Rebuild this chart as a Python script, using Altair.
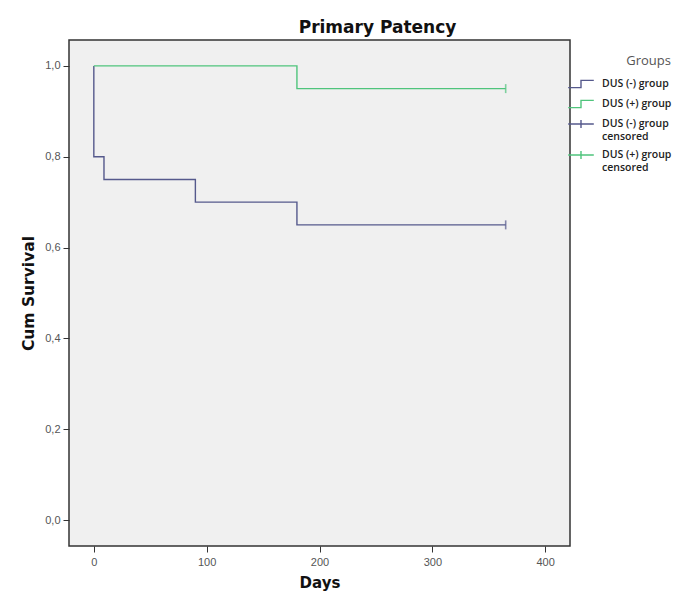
import altair as alt
import pandas as pd

# Kaplan-Meier steps
neg_days = [0, 0, 9, 90, 180, 365]
neg_surv = [1.0, 0.80, 0.75, 0.70, 0.65, 0.65]
pos_days = [0, 180, 365]
pos_surv = [1.0, 0.95, 0.95]

cens_group = ["DUS (-) group censored", "DUS (+) group censored"]
cens_days = [365, 365]
cens_surv = [0.65, 0.95]

groups = ["DUS (-) group", "DUS (+) group", "DUS (-) group censored", "DUS (+) group censored"]
colors = ["#55598c", "#4fc47c", "#55598c", "#4fc47c"]
shapes = ["M-1.6,0.45H0V-0.45H1.6", "M-1.6,0.45H0V-0.45H1.6",
          "M-1.6,0H1.6M0,-0.5V0.5", "M-1.6,0H1.6M0,-0.5V0.5"]

y_ticks = [0.0, 0.2, 0.4, 0.6, 0.8, 1.0]
x_ticks = [0, 100, 200, 300, 400]

lines = pd.DataFrame({
    "days": neg_days + pos_days,
    "surv": neg_surv + pos_surv,
    "group": ["DUS (-) group"] * len(neg_days) + ["DUS (+) group"] * len(pos_days),
    "ord": list(range(len(neg_days))) + list(range(len(pos_days))),
})
cens = pd.DataFrame({"days": cens_days, "surv": cens_surv, "group": cens_group})
leg = pd.DataFrame({"days": [365] * 4, "surv": [0.65] * 4, "group": groups})

xs = alt.Scale(domain=[-22, 422], nice=False, zero=False)
ys = alt.Scale(domain=[-0.057, 1.057], nice=False, zero=False)
cs = alt.Scale(domain=groups, range=colors)
ss = alt.Scale(domain=groups, range=shapes)

x_axis = alt.Axis(values=x_ticks, title="Days", grid=False, domain=False, tickColor="#333",
                  tickSize=6, labelColor="#555", labelFontSize=11, labelFont="Liberation Sans",
                  titleFont="DejaVu Sans", titleFontSize=15, titleFontWeight="bold",
                  titleColor="#111", titlePadding=8, labelPadding=4)
y_axis = alt.Axis(values=y_ticks, title="Cum Survival", grid=False, domain=False, tickColor="#333",
                  tickSize=6, labelColor="#555", labelFontSize=11, labelFont="Liberation Sans",
                  labelExpr="replace(format(datum.value, '.1f'), '.', ',')",
                  titleFont="DejaVu Sans", titleFontSize=15.5, titleFontWeight="bold",
                  titleColor="#111", titlePadding=8, labelPadding=3)

def make_legend():
    return alt.Legend(orient="none", legendX=503, legendY=15, padding=0,
                      symbolSize=256, symbolOpacity=1, symbolStrokeWidth=1.4,
                      symbolFillColor="transparent",
                      labelExpr="split(replace(datum.label, ' censored', '|censored'), '|')",
                      labelFont="Open Sans", labelFontWeight=600, labelFontSize=10.5,
                      labelColor="#222", labelOffset=12,
                      labelBaseline="middle", rowPadding=4,
                      titleFont="Open Sans", titleFontWeight="normal", titleFontSize=13,
                      titleColor="#555", titleAnchor="end", titlePadding=7,
                      labelLimit=200)

line_layer = alt.Chart(lines).mark_line(interpolate="step-after", strokeWidth=1.4).encode(
    x=alt.X("days:Q", scale=xs, axis=x_axis),
    y=alt.Y("surv:Q", scale=ys, axis=y_axis),
    color=alt.Color("group:N", scale=cs, title="Groups", legend=make_legend()),
    detail="group:N",
    order="ord:Q",
)

cens_layer = alt.Chart(cens).mark_point(filled=False, shape="M0,-1V1", size=81, strokeWidth=1.6).encode(
    x="days:Q",
    y="surv:Q",
    color=alt.Color("group:N", scale=cs, title="Groups", legend=make_legend()),
)

legend_layer = alt.Chart(leg).mark_point(filled=False, strokeWidth=1.4).encode(
    x="days:Q",
    y="surv:Q",
    color=alt.Color("group:N", scale=cs, title="Groups", legend=make_legend()),
    shape=alt.Shape("group:N", scale=ss, title="Groups", legend=make_legend()),
    opacity=alt.value(0),
)

chart = alt.layer(line_layer, cens_layer, legend_layer).properties(
    width=501, height=506,
    title=alt.TitleParams("Primary Patency", font="DejaVu Sans", fontSize=17, fontWeight="bold",
                          color="#111", anchor="middle", dx=58, offset=3),
    autosize=alt.AutoSizeParams(type="none"),
    padding={"left": 61, "top": 32, "right": 110, "bottom": 45},
    background="white",
).configure_view(
    fill="#f0f0f0", stroke="#333", strokeWidth=1.5,
)

chart.save("out.html", embed_options={"renderer": "svg", "actions": False})
